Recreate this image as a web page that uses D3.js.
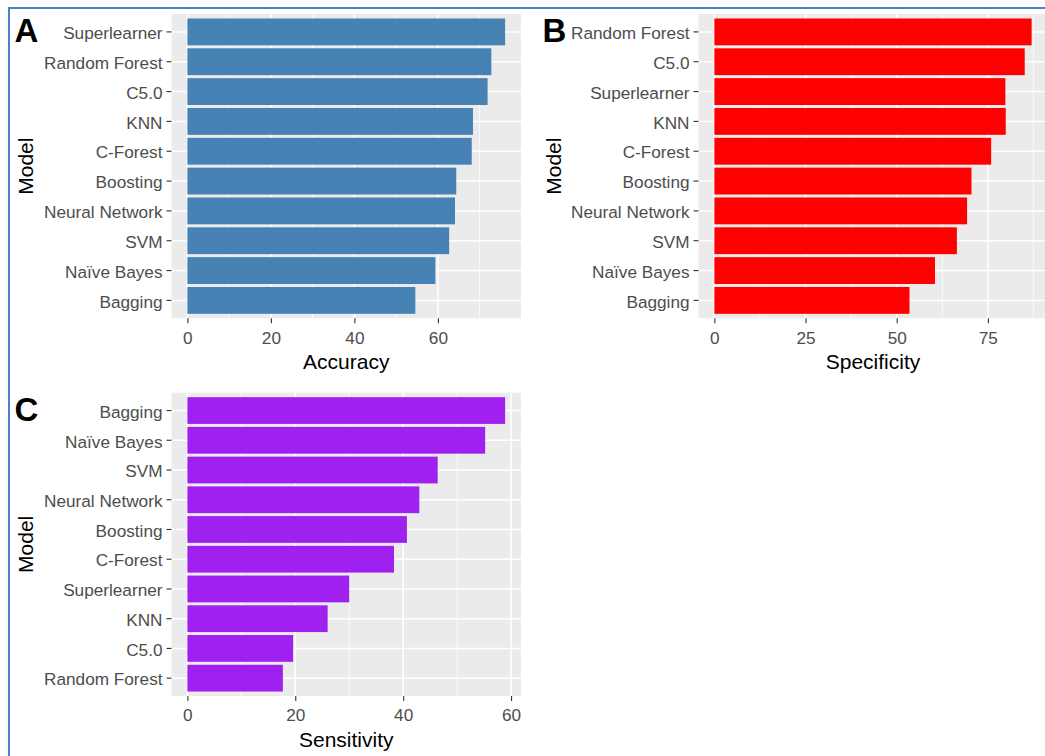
<!DOCTYPE html>
<html>
<head>
<meta charset="utf-8">
<script src="https://cdn.jsdelivr.net/npm/d3@7"></script>
<style>
  html, body { margin: 0; padding: 0; background: #fff; }
  svg { display: block; font-family: "Liberation Sans", Arial, sans-serif; }
</style>
</head>
<body>
<svg id="chart" width="1045" height="756"></svg>
<script>
// panel A - accuracy, top to bottom
const modelsA = ['Superlearner', 'Random Forest', 'C5.0', 'KNN', 'C-Forest', 'Boosting', 'Neural Network', 'SVM', 'Naïve Bayes', 'Bagging'];
const accuracy = [76.1, 72.8, 71.9, 68.4, 68.1, 64.4, 64.1, 62.7, 59.4, 54.6];
const ticksA = [0, 20, 40, 60];

// panel B - specificity
const modelsB = ['Random Forest', 'C5.0', 'Superlearner', 'KNN', 'C-Forest', 'Boosting', 'Neural Network', 'SVM', 'Naïve Bayes', 'Bagging'];
const specificity = [87.0, 85.1, 79.8, 79.9, 75.9, 70.5, 69.3, 66.5, 60.5, 53.5];
const ticksB = [0, 25, 50, 75];

// panel C - sensitivity
const modelsC = ['Bagging', 'Naïve Bayes', 'SVM', 'Neural Network', 'Boosting', 'C-Forest', 'Superlearner', 'KNN', 'C5.0', 'Random Forest'];
const sensitivity = [58.9, 55.2, 46.4, 43.0, 40.7, 38.3, 30.0, 26.0, 19.6, 17.7];
const ticksC = [0, 20, 40, 60];

const svg = d3.select('#chart');

// frame lines (left + top)
svg.append('rect').attr('x', 8).attr('y', 7).attr('width', 1045).attr('height', 2).attr('fill', '#4f7fcb');
svg.append('rect').attr('x', 8).attr('y', 7).attr('width', 2).attr('height', 756).attr('fill', '#4f7fcb');

function drawPanel(p) {
  const g = svg.append('g');
  const maxV = d3.max(p.values);
  const x = d3.scaleLinear().domain([-0.05 * maxV, 1.05 * maxV]).range([p.x0, p.x1]);
  const y = d3.scaleBand().domain(p.models).range([p.y0, p.y1]).paddingInner(0.1).paddingOuter(0.15);

  // panel background
  g.append('rect')
    .attr('x', p.x0).attr('y', p.y0)
    .attr('width', p.x1 - p.x0).attr('height', p.y1 - p.y0)
    .attr('fill', '#ebebeb');

  // minor grid
  const stepT = p.ticks[1] - p.ticks[0];
  const minors = p.ticks.map(t => t + stepT / 2).filter(v => v <= x.domain()[1]);
  g.selectAll('.minor').data(minors).join('line')
    .attr('x1', d => x(d)).attr('x2', d => x(d))
    .attr('y1', p.y0).attr('y2', p.y1)
    .attr('stroke', '#fff').attr('stroke-width', 0.8);

  // major grid
  g.selectAll('.major').data(p.ticks).join('line')
    .attr('x1', d => x(d)).attr('x2', d => x(d))
    .attr('y1', p.y0).attr('y2', p.y1)
    .attr('stroke', '#fff').attr('stroke-width', 1.5);
  g.selectAll('.hmajor').data(p.models).join('line')
    .attr('x1', p.x0).attr('x2', p.x1)
    .attr('y1', d => y(d) + y.bandwidth() / 2).attr('y2', d => y(d) + y.bandwidth() / 2)
    .attr('stroke', '#fff').attr('stroke-width', 1.5);

  // bars
  g.selectAll('.bar').data(p.models).join('rect')
    .attr('x', x(0))
    .attr('y', d => y(d))
    .attr('width', (d, i) => x(p.values[i]) - x(0))
    .attr('height', y.bandwidth())
    .attr('fill', p.color);

  // y axis
  const yAxis = g.append('g')
    .attr('transform', `translate(${p.x0},0)`)
    .call(d3.axisLeft(y).tickSize(5).tickPadding(4));
  yAxis.select('.domain').remove();
  yAxis.selectAll('line').attr('stroke', '#333').attr('stroke-width', 1.1);
  yAxis.selectAll('text')
    .attr('fill', '#4d4d4d').style('font-size', '17.2px')
    .attr('dy', '0.42em')
    .attr('font-family', null);

  // x axis
  const xAxis = g.append('g')
    .attr('transform', `translate(0,${p.y1})`)
    .call(d3.axisBottom(x).tickValues(p.ticks).tickSize(5).tickPadding(8));
  xAxis.select('.domain').remove();
  xAxis.selectAll('line').attr('stroke', '#333').attr('stroke-width', 1.1);
  xAxis.selectAll('text')
    .attr('fill', '#4d4d4d').style('font-size', '17.2px')
    .attr('font-family', null);

  // titles
  g.append('text')
    .attr('x', (p.x0 + p.x1) / 2).attr('y', p.y1 + 51)
    .attr('text-anchor', 'middle')
    .style('font-size', '21px').attr('fill', '#000')
    .text(p.title);
  g.append('text')
    .attr('transform', `translate(${p.ylabX},${(p.y0 + p.y1) / 2}) rotate(-90)`)
    .attr('text-anchor', 'middle').attr('dy', '0.35em')
    .style('font-size', '21px').attr('fill', '#000')
    .text('Model');
  g.append('text')
    .attr('x', p.letterX).attr('y', p.letterY)
    .style('font-size', '33px').style('font-weight', 'bold').attr('fill', '#000')
    .text(p.letter);
}

drawPanel({ models: modelsA, values: accuracy, ticks: ticksA, color: 'steelblue', title: 'Accuracy', letter: 'A',
  x0: 171.5, x1: 521, y0: 14, y1: 318.3, ylabX: 25.5, letterX: 14.5, letterY: 42 });
drawPanel({ models: modelsB, values: specificity, ticks: ticksB, color: '#ff0000', title: 'Specificity', letter: 'B',
  x0: 698.5, x1: 1047.5, y0: 14, y1: 318.3, ylabX: 553.5, letterX: 542.5, letterY: 42 });
drawPanel({ models: modelsC, values: sensitivity, ticks: ticksC, color: '#a020f0', title: 'Sensitivity', letter: 'C',
  x0: 171.5, x1: 521, y0: 392.7, y1: 696, ylabX: 25.5, letterX: 14.5, letterY: 421 });
</script>
</body>
</html>
